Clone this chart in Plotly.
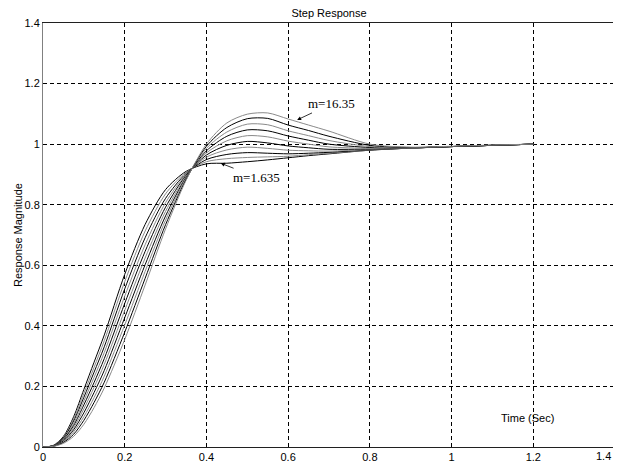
import plotly.graph_objects as go

# time grid (sec)
t = [0, 0.025, 0.05, 0.075, 0.1, 0.125, 0.15, 0.2, 0.25, 0.3, 0.35, 0.4,
     0.45, 0.5, 0.55, 0.6, 0.65, 0.7, 0.8, 0.9, 1.0, 1.1, 1.2]

m_values = [1.635, 3.27, 4.905, 6.54, 8.175, 9.81, 11.445, 13.08, 14.715, 16.35]

# step responses, one list per m
y_m1 = [0, .005, .035, .100, .190, .280, .370, .570, .735, .850, .910, .935,
        .937, .942, .948, .955, .962, .968, .980, .987, .992, .996, 1.0]
y_m2 = [0, .005, .032, .093, .177, .263, .351, .546, .713, .836, .907, .942,
        .952, .956, .958, .960, .965, .970, .980, .987, .992, .996, 1.0]
y_m3 = [0, .004, .030, .086, .164, .247, .331, .522, .691, .821, .903, .949,
        .966, .972, .970, .968, .970, .973, .981, .987, .992, .996, 1.0]
y_m4 = [0, .004, .027, .078, .152, .230, .312, .498, .668, .807, .900, .957,
        .981, .990, .986, .980, .978, .977, .982, .987, .992, .996, 1.0]
y_m5 = [0, .004, .025, .071, .139, .213, .292, .474, .646, .792, .897, .964,
        .996, 1.009, 1.004, .994, .988, .983, .984, .987, .992, .996, 1.0]
y_m6 = [0, .003, .022, .064, .126, .197, .273, .451, .624, .778, .893, .971,
        1.011, 1.028, 1.024, 1.010, 1.000, .991, .986, .987, .992, .996, 1.0]
y_m7 = [0, .003, .020, .057, .113, .180, .253, .427, .602, .763, .890, .978,
        1.026, 1.047, 1.044, 1.027, 1.013, 1.000, .989, .988, .992, .996, 1.0]
y_m8 = [0, .003, .017, .050, .100, .163, .234, .403, .580, .749, .887, .986,
        1.040, 1.066, 1.064, 1.044, 1.028, 1.012, .992, .988, .992, .996, 1.0]
y_m9 = [0, .002, .015, .042, .088, .147, .214, .379, .557, .734, .883, .993,
        1.055, 1.084, 1.085, 1.063, 1.045, 1.026, .996, .989, .992, .996, 1.0]
y_m10 = [0, .002, .012, .035, .075, .130, .195, .355, .535, .720, .880, 1.000,
         1.070, 1.099, 1.103, 1.083, 1.063, 1.043, 1.000, .990, .993, .997, 1.0]

curves = [y_m1, y_m2, y_m3, y_m4, y_m5, y_m6, y_m7, y_m8, y_m9, y_m10]
ticks = [0, 0.2, 0.4, 0.6, 0.8, 1, 1.2, 1.4]
tick_text = ['0', '0.2', '0.4', '0.6', '0.8', '1', '1.2', '1.4']

fig = go.Figure()
for i, (m, y) in enumerate(zip(m_values, curves)):
    fig.add_trace(go.Scatter(
        x=t, y=y, mode='lines', name='m=%g' % m,
        line=dict(color='black' if i % 2 == 0 else '#8a8a8a', width=1,
                  shape='spline', smoothing=0.8),
        showlegend=False,
    ))

font = dict(family='Liberation Sans', size=11, color='black')
axis_common = dict(
    range=[0, 1.4], tickvals=ticks, showgrid=True, gridcolor='black',
    gridwidth=1, griddash='4px,3px', zeroline=False, showline=True,
    mirror=True, ticks='', automargin=False, tickfont=font,
    ticklabeloverflow='allow',
)
# last x label sits at the window edge, drawn separately below
fig.update_xaxes(**axis_common, linecolor='#202020',
                 ticktext=tick_text[:-1] + [''])
fig.update_yaxes(**axis_common, linecolor='#808080', ticktext=tick_text)

# the page body adds an 8px margin, so the figure is 8px smaller
fig.update_layout(
    width=613, height=460,
    margin=dict(l=35, r=6, t=15, b=21, autoexpand=False),
    plot_bgcolor='white', paper_bgcolor='white',
    title=dict(text='Step Response', x=0.5, xref='paper', y=1 - 5 / 460,
               yref='container', xanchor='center', yanchor='middle',
               font=font),
)

fig.add_annotation(text=tick_text[-1], xref='paper', yref='paper', x=1, y=0,
                   xanchor='right', yanchor='top', xshift=-2, yshift=-1,
                   showarrow=False, font=font)
fig.add_annotation(text='Response Magnitude', xref='paper', yref='paper',
                   x=0, y=0.5, xshift=-33, textangle=-90, showarrow=False,
                   font=font)
fig.add_annotation(text='Time (Sec)', x=1.187, y=0.096, showarrow=False,
                   font=font)

# labels with arrows pointing at the extreme curves
serif = dict(family='Liberation Serif', size=13, color='black')
fig.add_annotation(text='m=16.35', x=0.622, y=1.08, ax=34, ay=-16,
                   showarrow=True, arrowhead=2, arrowsize=1, arrowwidth=0.8,
                   arrowcolor='black', font=serif)
fig.add_annotation(text='m=1.635', x=0.435, y=0.937, ax=36, ay=14,
                   showarrow=True, arrowhead=2, arrowsize=1, arrowwidth=0.8,
                   arrowcolor='black', font=serif)

fig.write_html('out.html')
